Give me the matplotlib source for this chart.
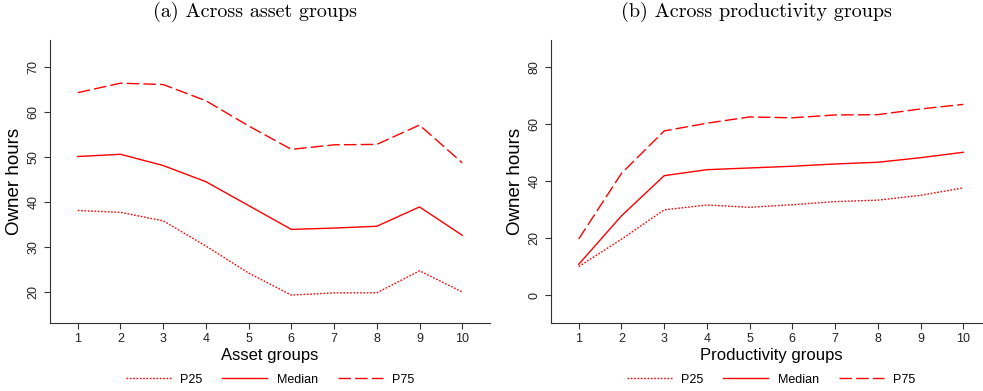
import matplotlib.pyplot as plt

groups = [1, 2, 3, 4, 5, 6, 7, 8, 9, 10]

# (a) across asset groups
asset_p25 = [38.1, 37.7, 35.8, 30.2, 24.2, 19.3, 19.8, 19.8, 24.7, 20.0]
asset_med = [50.1, 50.6, 48.1, 44.5, 39.2, 33.9, 34.2, 34.6, 38.9, 32.6]
asset_p75 = [64.3, 66.4, 66.1, 62.5, 56.9, 51.7, 52.7, 52.8, 57.1, 48.7]

# (b) across productivity groups
prod_p25 = [10.0, 19.6, 29.9, 31.6, 30.8, 31.7, 32.8, 33.3, 35.0, 37.6]
prod_med = [10.8, 27.8, 41.9, 44.0, 44.6, 45.2, 46.0, 46.6, 48.2, 50.1]
prod_p75 = [19.7, 42.7, 57.6, 60.3, 62.5, 62.2, 63.2, 63.3, 65.3, 66.9]

plt.rcParams['font.family'] = 'Liberation Sans'

W, H = 983, 391
fig = plt.figure(figsize=(W / 100, H / 100), dpi=100)

red = '#ff0000'


def panel(left, p25, med, p75, ylim, yticks, xlabel):
    ax = fig.add_axes([left / W, 68 / H, 440 / W, 283 / H])
    ax.plot(groups, p25, color=red, lw=1, dashes=(1.2, 1.2), label='P25')
    ax.plot(groups, med, color=red, lw=1, label='Median')
    ax.plot(groups, p75, color=red, lw=1, dashes=(9, 3), label='P75')
    ax.set_xlim(0.35, 10.65)
    ax.set_ylim(*ylim)
    ax.set_xticks(groups)
    ax.set_yticks(yticks)
    ax.tick_params(labelsize=9, length=4, color='#333333', labelcolor='#222222')
    for lab in ax.get_yticklabels():
        lab.set_rotation(90)
        lab.set_va('center')
    ax.spines['top'].set_visible(False)
    ax.spines['right'].set_visible(False)
    ax.spines['left'].set_color('#333333')
    ax.spines['bottom'].set_color('#333333')
    ax.set_xlabel(xlabel, fontsize=12, labelpad=2)
    ax.set_ylabel('Owner hours', fontsize=13.5, labelpad=3)
    ax.legend(loc='center', bbox_to_anchor=(0.5, -0.2), ncol=3,
              frameon=False, fontsize=9, handlelength=3.6,
              handletextpad=0.75, columnspacing=1.6)
    return ax


panel(50, asset_p25, asset_med, asset_p75, (13.1, 76), [20, 30, 40, 50, 60, 70],
      'Asset groups')
panel(551, prod_p25, prod_med, prod_p75, (-9.8, 89.5), [0, 20, 40, 60, 80],
      'Productivity groups')

fig.text(255 / W, 1 - 12 / H, '(a) Across asset groups', family='cmr10',
         fontsize=14.5, ha='center', va='center')
fig.text(756 / W, 1 - 12 / H, '(b) Across productivity groups', family='cmr10',
         fontsize=14.5, ha='center', va='center')

fig.savefig('out.png', dpi=100)
